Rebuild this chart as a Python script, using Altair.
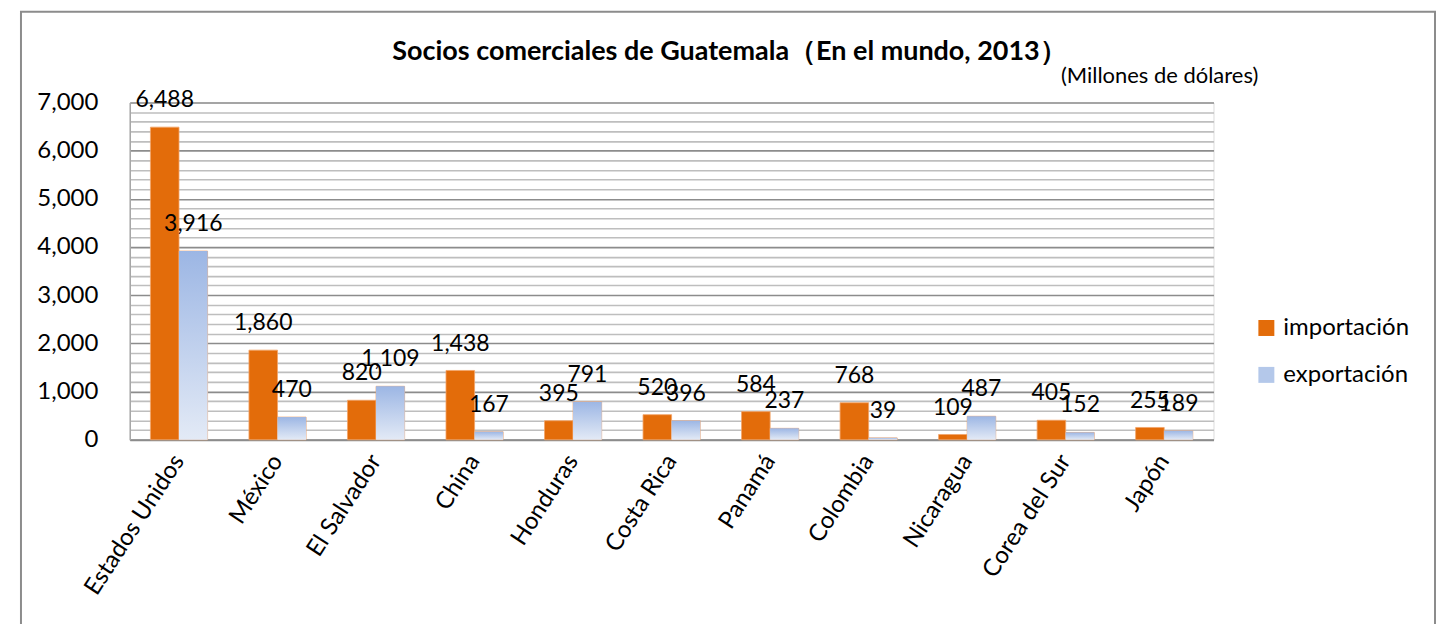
import altair as alt
import pandas as pd

countries = ["Estados Unidos", "México", "El Salvador", "China", "Honduras",
             "Costa Rica", "Panamá", "Colombia", "Nicaragua", "Corea del Sur", "Japón"]
importacion = [6488, 1860, 820, 1438, 395, 520, 584, 768, 109, 405, 255]
exportacion = [3916, 470, 1109, 167, 791, 396, 237, 39, 487, 152, 189]
series_names = ["importación", "exportación"]
y_ticks = list(range(0, 7001, 200))

title_text = "Socios comerciales de Guatemala（En el mundo, 2013）"
subtitle_text = "(Millones de dólares)"

FONT = "Lato"
FS = 24
ORANGE = "#E36C0A"
BLUE_LEGEND = "#B4C8EA"

rows = []
for c, imp, exp in zip(countries, importacion, exportacion):
    rows.append({"pais": c, "serie": series_names[0], "valor": imp})
    rows.append({"pais": c, "serie": series_names[1], "valor": exp})
df = pd.DataFrame(rows)

W, H = 1086, 338

x_enc = alt.X("pais:N", sort=countries, title=None,
              scale=alt.Scale(paddingInner=0.42, paddingOuter=0.21),
              axis=alt.Axis(labelAngle=-57, labelFontSize=FS, labelFont=FONT,
                            labelColor="black", ticks=False, labelPadding=17,
                            domainColor="#8C8C8C", domainWidth=2, labelLimit=300))
xoff = alt.XOffset("serie:N", sort=series_names,
                   scale=alt.Scale(paddingInner=0, paddingOuter=0))
y_enc = alt.Y("valor:Q", title=None,
              scale=alt.Scale(domain=[0, 7000], nice=False),
              axis=alt.Axis(values=y_ticks, tickCount=100, ticks=False, labelOverlap=False,
                            labelExpr="datum.value % 1000 === 0 ? format(datum.value, ',') : ''",
                            labelFontSize=FS, labelFont=FONT, labelColor="black",
                            labelPadding=32, domainColor="#A6A6A6", domainWidth=1.5,
                            gridColor={"condition": {"test": "datum.value % 1000 === 0",
                                                     "value": "#8C8C8C"},
                                       "value": "#BEBEBE"},
                            gridWidth=1.6))

base = alt.Chart(df)

bars = base.mark_bar(stroke="#F2A46A", strokeWidth=0.8).encode(
    x=x_enc, xOffset=xoff, y=y_enc,
    color=alt.Color("serie:N", sort=series_names,
                    scale=alt.Scale(domain=series_names, range=[ORANGE, BLUE_LEGEND]),
                    legend=alt.Legend(orient="none", legendX=1127, legendY=214,
                                      symbolType="square", symbolSize=256,
                                      symbolStrokeWidth=0, labelFontSize=FS,
                                      labelFont=FONT, labelColor="black",
                                      rowPadding=23, labelOffset=5, padding=0,
                                      title=None)),
)

grad = alt.Gradient(gradient="linear",
                    stops=[alt.GradientStop(color="#9CB6E4", offset=0),
                           alt.GradientStop(color="#E3EAF6", offset=1)],
                    x1=0, x2=0, y1=0, y2=1)

bars_exp = base.transform_filter(alt.datum.serie == series_names[1]).mark_bar(
    fill=grad).encode(x=alt.X("pais:N", sort=countries), xOffset=xoff, y="valor:Q")

labels = base.mark_text(fontSize=23, font=FONT, color="black", baseline="middle",
                        dy=-27).encode(
    x=alt.X("pais:N", sort=countries), xOffset=xoff, y="valor:Q",
    text=alt.Text("valor:Q", format=","))

title = alt.Chart(pd.DataFrame({"t": [title_text]})).mark_text(
    fontSize=27, font=FONT, fontWeight="bold", color="black",
    baseline="middle", align="center").encode(
    x=alt.value(601), y=alt.value(-51), text="t:N")
subtitle = alt.Chart(pd.DataFrame({"t": [subtitle_text]})).mark_text(
    fontSize=22, font=FONT, color="black", baseline="middle", align="center").encode(
    x=alt.value(1032), y=alt.value(-26), text="t:N")
frame = alt.Chart(pd.DataFrame({"a": [0]})).mark_rect(
    fill="transparent", stroke="#8C8C8C", strokeWidth=2).encode(
    x=alt.value(-109), x2=alt.value(1308), y=alt.value(-91), y2=alt.value(530))

chart = alt.layer(bars, bars_exp, labels, title, subtitle, frame).properties(
    width=W, height=H,
    padding={"left": 12, "top": 2, "right": 2, "bottom": 2},
).configure_view(stroke="transparent").configure(background="white")

chart.save("out.html", embed_options={"renderer": "svg", "actions": False})
